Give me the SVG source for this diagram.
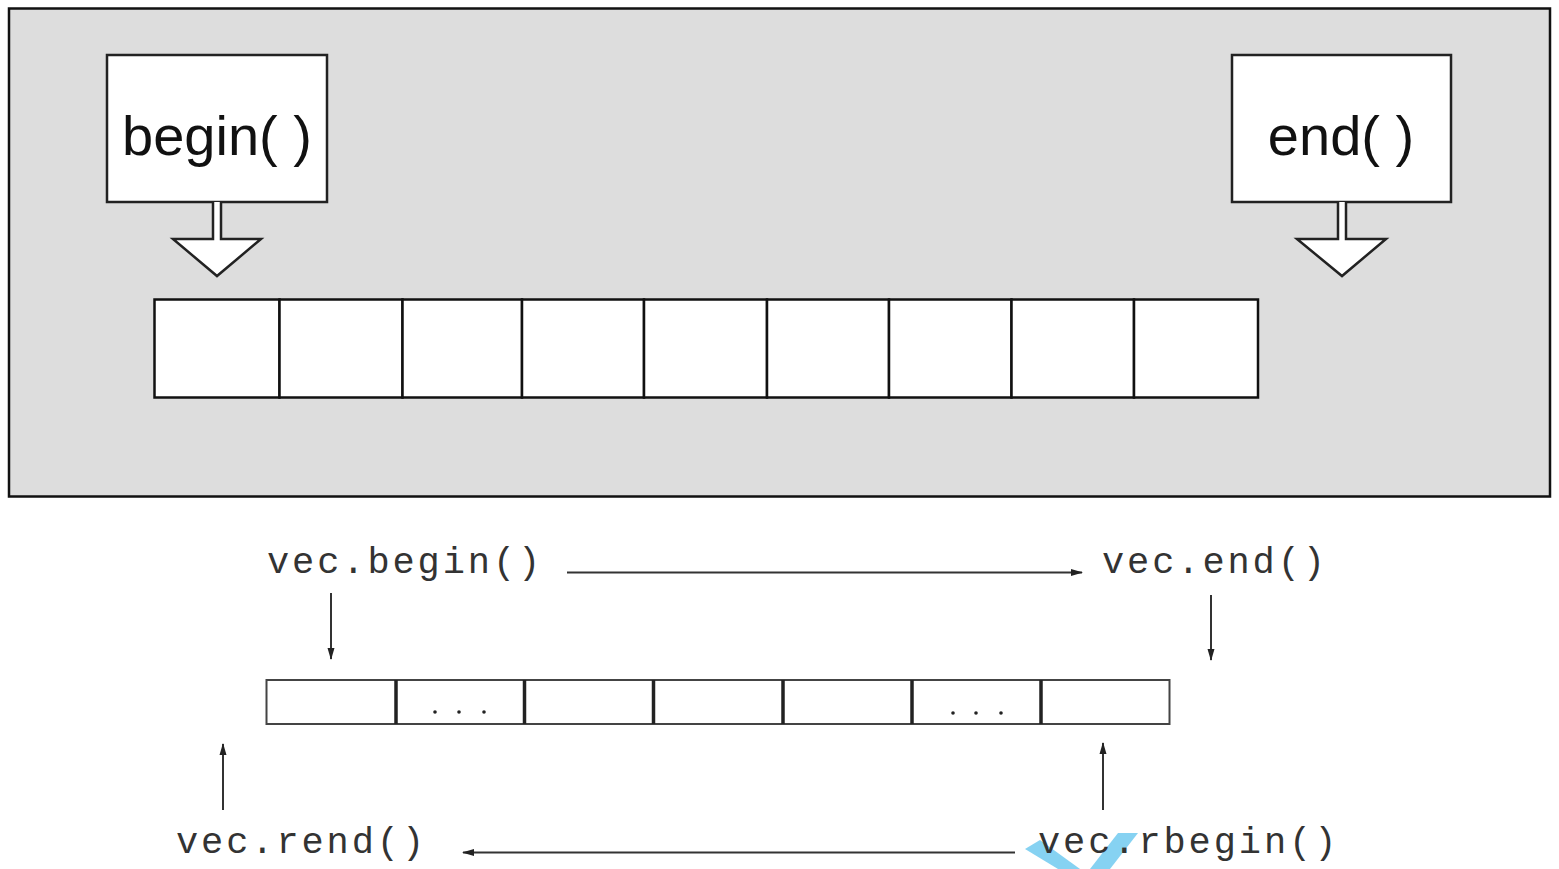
<svg xmlns="http://www.w3.org/2000/svg" width="1559" height="869" viewBox="0 0 1559 869">
<defs>
<style>
.cell{fill:#fff;stroke:#111;stroke-width:2.5}
.box{fill:#fff;stroke:#222;stroke-width:2.5}
.blk{fill:#fff;stroke:#222;stroke-width:2.5;stroke-linejoin:miter}
.big{font-family:"Liberation Sans",Arial,sans-serif;font-size:56px;fill:#111;text-anchor:middle}
.code{font-family:"Liberation Mono","Courier New",monospace;font-size:37px;fill:#333;letter-spacing:2.9px}
.bcell{fill:#fff;stroke:#444;stroke-width:2}
.div{stroke:#222;stroke-width:3.5}
.con{stroke:#333;stroke-width:2;fill:none}
.dot{fill:#222}
</style>
<marker id="ah" viewBox="0 0 12 10" refX="11" refY="5" markerWidth="12" markerHeight="10" markerUnits="userSpaceOnUse" orient="auto">
<path d="M0,1.5 L12,5 L0,8.5 Z" fill="#222"/>
</marker>
</defs>
<rect width="1559" height="869" fill="#fff"/>
<g id="panel">
<rect x="9" y="8.5" width="1541" height="488" fill="#dddddd" stroke="#111" stroke-width="2.5"/>
</g>
<g id="begin-node">
<rect class="box" x="107" y="55" width="220" height="147"/>
<text class="big" x="217" y="155">begin( )</text>
<path class="blk" d="M213,202 L213,239 L173,239 L217,276 L261,239 L221,239 L221,202"/>
</g>
<g id="end-node">
<rect class="box" x="1232" y="55" width="219" height="147"/>
<text class="big" x="1341" y="155">end( )</text>
<path class="blk" d="M1338,202 L1338,239 L1297,239 L1342,276 L1386,239 L1346,239 L1346,202"/>
</g>
<g id="top-vector">
<rect class="cell" x="154.5" y="299.5" width="125" height="98"/>
<rect class="cell" x="279.5" y="299.5" width="123" height="98"/>
<rect class="cell" x="402.5" y="299.5" width="119.5" height="98"/>
<rect class="cell" x="522" y="299.5" width="122" height="98"/>
<rect class="cell" x="644" y="299.5" width="123" height="98"/>
<rect class="cell" x="767" y="299.5" width="122" height="98"/>
<rect class="cell" x="889" y="299.5" width="122.5" height="98"/>
<rect class="cell" x="1011.5" y="299.5" width="122.5" height="98"/>
<rect class="cell" x="1134" y="299.5" width="124" height="98"/>
</g>
<g id="bottom-vector">
<rect class="bcell" x="266.5" y="680" width="903" height="44"/>
<line class="div" x1="396" y1="680" x2="396" y2="724"/>
<line class="div" x1="524.5" y1="680" x2="524.5" y2="724"/>
<line class="div" x1="653.5" y1="680" x2="653.5" y2="724"/>
<line class="div" x1="783" y1="680" x2="783" y2="724"/>
<line class="div" x1="912" y1="680" x2="912" y2="724"/>
<line class="div" x1="1041" y1="680" x2="1041" y2="724"/>
<circle class="dot" cx="435" cy="712" r="1.8"/>
<circle class="dot" cx="459" cy="712" r="1.8"/>
<circle class="dot" cx="484" cy="712" r="1.8"/>
<circle class="dot" cx="953" cy="713" r="1.8"/>
<circle class="dot" cx="976" cy="713" r="1.8"/>
<circle class="dot" cx="1001" cy="713" r="1.8"/>
</g>
<g id="watermark" fill="#86d2f2">
<polygon points="1025,849 1040,840 1080,869 1058,869"/>
<polygon points="1118,833 1138,833 1110,869 1090,869"/>
</g>
<g id="label-vec-begin"><text class="code" x="267" y="573">vec.begin()</text></g>
<g id="label-vec-end"><text class="code" x="1102" y="573">vec.end()</text></g>
<g id="label-vec-rend"><text class="code" x="176" y="853">vec.rend()</text></g>
<g id="label-vec-rbegin"><text class="code" x="1038" y="853">vec.rbegin()</text></g>
<g id="connectors">
<line class="con" x1="567" y1="572.5" x2="1082" y2="572.5" marker-end="url(#ah)"/>
<line class="con" x1="331" y1="593" x2="331" y2="659" marker-end="url(#ah)"/>
<line class="con" x1="1211" y1="595" x2="1211" y2="660" marker-end="url(#ah)"/>
<line class="con" x1="223" y1="810" x2="223" y2="744" marker-end="url(#ah)"/>
<line class="con" x1="1103" y1="810" x2="1103" y2="743" marker-end="url(#ah)"/>
<line class="con" x1="1015" y1="852.5" x2="463" y2="852.5" stroke="#555" stroke-width="3" marker-end="url(#ah)"/>
</g>
</svg>
